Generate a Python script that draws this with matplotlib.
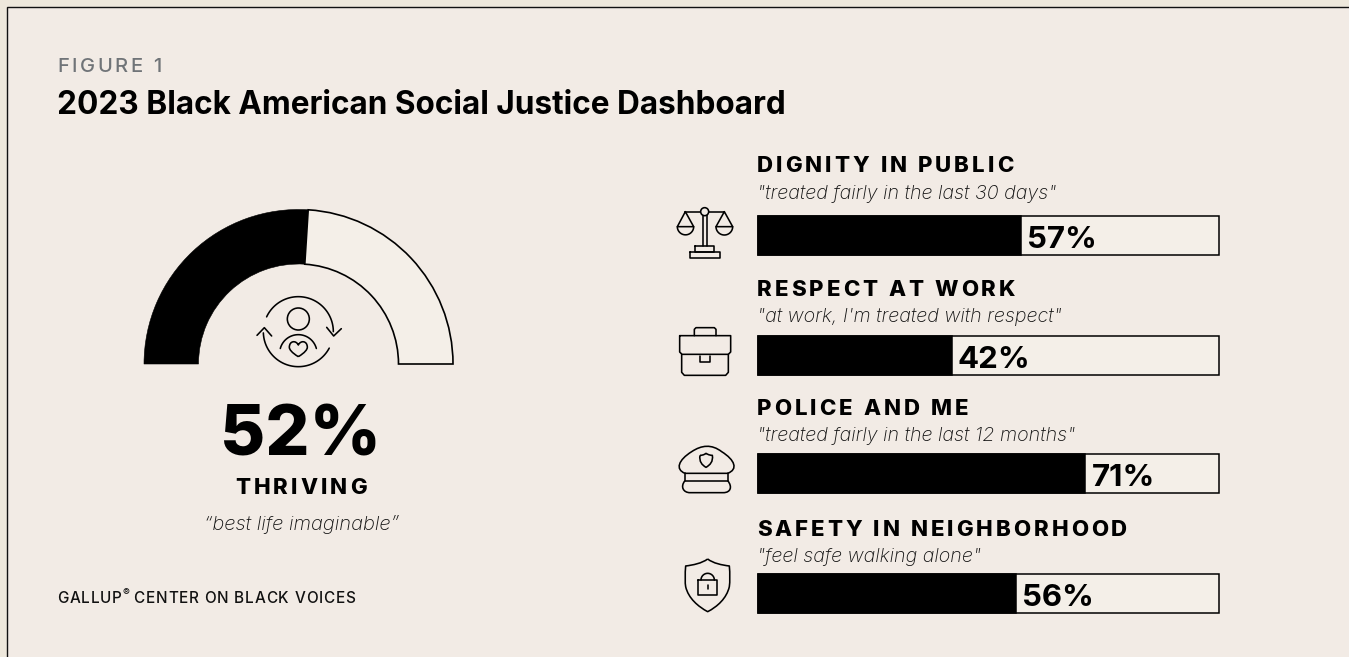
import matplotlib
matplotlib.use("Agg")
import matplotlib.pyplot as plt
import numpy as np
from matplotlib.patches import Rectangle, Wedge, PathPatch, Circle
from matplotlib.path import Path

# data
thriving_pct = 52
thriving_label = "THRIVING"
thriving_quote = "\u201cbest life imaginable\u201d"
categories = ["DIGNITY IN PUBLIC", "RESPECT AT WORK", "POLICE AND ME", "SAFETY IN NEIGHBORHOOD"]
quotes = [
    '"treated fairly in the last 30 days"',
    '"at work, I\'m treated with respect"',
    '"treated fairly in the last 12 months"',
    '"feel safe walking alone"',
]
values = [57, 42, 71, 56]

W, H = 1349, 657
BG = "#f2ebe5"
OUTER = "#eee8dc"
INK = "#000000"
LW = 1.15

# layout, in image pixels
bar_tops = [216, 336, 454, 574]
bar_height = 39
head_base = [172, 296, 415, 536]
quote_base = [199, 322, 441, 562]

fig = plt.figure(figsize=(W / 100, H / 100), dpi=100, facecolor=OUTER)
ax = fig.add_axes([0, 0, 1, 1])
ax.set_xlim(0, W)
ax.set_ylim(H, 0)
ax.axis("off")
ax.add_patch(Rectangle((7.2, 7.2), W, H, fc=BG, ec="#111111", lw=1.0))


def spaced_text(x, y, s, spacing, ha="left", **kw):
    # matplotlib has no letter spacing, so place one glyph at a time
    renderer = fig.canvas.get_renderer()

    def width(part):
        t = ax.text(0, 0, part + ".", **kw)
        w1 = t.get_window_extent(renderer).width
        t.set_text(".")
        w2 = t.get_window_extent(renderer).width
        t.remove()
        return w1 - w2

    total = width(s) + spacing * (len(s) - 1)
    x0 = x - total / 2 if ha == "center" else x
    for i, ch in enumerate(s):
        if ch != " ":
            ax.text(x0 + width(s[:i]) + spacing * i, y, ch, va="baseline", ha="left", **kw)
    return x0 + total


def line(points, closed=False, ox=0, oy=0, scale=1 / 3, lw=LW, fc="none"):
    pts = [(ox + px * scale, oy + py * scale) for px, py in points]
    if closed:
        pts.append(pts[0])
    ax.add_patch(PathPatch(Path(pts), fc=fc, ec=INK, lw=lw, joinstyle="round", capstyle="round"))


def arc(cx, cy, r, a1, a2, ox=0, oy=0, scale=1 / 3, lw=LW):
    t = np.radians(np.linspace(a1, a2, 60))
    line(list(zip(cx + r * np.cos(t), cy + r * np.sin(t))), ox=ox, oy=oy, scale=scale, lw=lw)


def curve(verts, ox, oy, closed=False, scale=1 / 3):
    # verts: start point, then triples of cubic bezier points
    pts = [(ox + a * scale, oy + b * scale) for a, b in verts]
    codes = [Path.MOVETO] + [Path.CURVE4] * (len(pts) - 1)
    if closed:
        pts.append(pts[0])
        codes.append(Path.CLOSEPOLY)
    ax.add_patch(PathPatch(Path(pts, codes), fc="none", ec=INK, lw=LW, joinstyle="round"))


# headings
spaced_text(57, 72, "FIGURE 1", 2.6, family="Inter", fontsize=14.5, color="#707478", fontweight="medium")
ax.text(57, 114, "2023 Black American Social Justice Dashboard", family="Inter", fontsize=22.7,
        fontweight="bold", color=INK, va="baseline")

# gauge
cx, cy, r_out, r_in = 298.5, 364, 154.5, 100
split = 180 + 180 * thriving_pct / 100
ax.add_patch(Wedge((cx, cy), r_out, 180, split, width=r_out - r_in, fc=INK, ec=INK, lw=0.4))
ax.add_patch(Wedge((cx, cy), r_out, split, 360, width=r_out - r_in, fc="#f4efe8", ec=INK, lw=1.2))

# person with heart inside the gauge
ox, oy = 130, 190
ax.add_patch(Circle((ox + 505 / 3, oy + 387 / 3), 11, fc="none", ec=INK, lw=LW))
arc(505, 490, 56, 195, 345, ox, oy)
curve([(505, 500), (485, 488), (478, 478), (478, 472), (478, 452), (498, 450), (505, 465),
       (512, 450), (532, 452), (532, 472), (532, 478), (525, 488), (505, 500)], ox, oy)
arc(505, 425, 105, 205, 360, ox, oy)
arc(505, 425, 105, 28, 178, ox, oy)
line([(590, 412), (611, 438), (634, 416)], ox=ox, oy=oy)
line([(381, 436), (403, 413), (425, 438)], ox=ox, oy=oy)

# big number and its labels
ax.text(301, 456, f"{thriving_pct}%", family="Inter", fontsize=50, fontweight="heavy", ha="center", va="baseline", color=INK)
spaced_text(301, 494, thriving_label, 3.1, ha="center", family="Inter", fontsize=16, fontweight="heavy", color=INK)
ax.text(301, 530, thriving_quote, family="Inter", fontsize=14.5, style="italic", fontweight="light",
        ha="center", va="baseline", color="#111111")

# footer
end = spaced_text(57, 603, "GALLUP", 0.8, family="Inter", fontsize=11, fontweight="medium", color="#111111")
ax.text(end + 1, 596, "\u00ae", family="Inter", fontsize=7.5, color="#111111", va="baseline")
spaced_text(end + 12, 603, "CENTER ON BLACK VOICES", 0.8, family="Inter", fontsize=11, fontweight="medium", color="#111111")

# right-hand labels
for name, quote, hb, qb in zip(categories, quotes, head_base, quote_base):
    spaced_text(757, hb, name, 3.0, family="Inter", fontsize=16, fontweight="heavy", color=INK)
    ax.text(757, qb, quote, family="Inter", fontsize=14.2, style="italic", fontweight="light",
            va="baseline", color="#111111")

# bars on their own 0-100 axis
bar_ax = fig.add_axes([758 / W, 0, (1219 - 758) / W, 1])
bar_ax.set_xlim(0, 100)
bar_ax.set_ylim(H, 0)
bar_ax.axis("off")
bar_ax.patch.set_alpha(0)
for top, value in zip(bar_tops, values):
    y = top + bar_height / 2
    bar_ax.barh(y, 100, height=bar_height, color="#f4efe8", edgecolor=INK, linewidth=1.1, clip_on=False)
    bar_ax.barh(y, value, height=bar_height, color=INK, edgecolor=INK, linewidth=1.1, clip_on=False)
    bar_ax.annotate(f"{value}%", xy=(value, top + 32), xytext=(4.5, 0), textcoords="offset points",
                    family="Inter", fontsize=22.5, fontweight="bold", va="baseline", color=INK)

# scales icon
ox, oy = 660, 190
line([(75, 65), (193, 65)], ox=ox, oy=oy)
ax.add_patch(Circle((ox + 134 / 3, oy + 65 / 3), 4, fc=BG, ec=INK, lw=LW, zorder=3))
line([(128, 75), (128, 167)], ox=ox, oy=oy)
line([(140, 75), (140, 167)], ox=ox, oy=oy)
line([(76, 65), (52, 110), (101, 110)], closed=True, ox=ox, oy=oy)
line([(193, 65), (168, 110), (218, 110)], closed=True, ox=ox, oy=oy)
arc(76.5, 110, 24.5, 0, 180, ox, oy)
arc(193, 110, 25, 0, 180, ox, oy)
line([(105, 167), (163, 167), (163, 185), (105, 185)], closed=True, ox=ox, oy=oy)
line([(90, 185), (180, 185), (180, 205), (90, 205)], closed=True, ox=ox, oy=oy)

# briefcase icon
line([(103, 437), (103, 418), (108, 413), (163, 413), (168, 418), (168, 437)], ox=ox, oy=oy)
line([(59, 437), (212, 437), (212, 486), (205, 493), (66, 493), (59, 486)], closed=True, ox=ox, oy=oy)
line([(65, 493), (65, 547), (73, 556), (197, 556), (205, 547), (205, 493)], ox=ox, oy=oy)
line([(120, 497), (120, 515), (150, 515), (150, 497)], ox=ox, oy=oy)

# police cap icon
ox, oy = 660, 430
curve([(75, 130), (45, 118), (55, 90), (95, 65), (125, 45), (155, 42), (185, 65),
       (225, 90), (235, 118), (203, 130), (160, 130), (115, 130), (75, 130)], ox, oy)
line([(75, 130), (75, 152), (203, 152), (203, 130)], ox=ox, oy=oy)
curve([(75, 152), (60, 170), (70, 188), (90, 188), (130, 188), (160, 188), (190, 188),
       (212, 188), (218, 170), (203, 152)], ox, oy)
curve([(120, 76), (132, 76), (138, 70), (138, 70), (138, 70), (146, 76), (157, 76),
       (160, 95), (150, 105), (138, 112), (126, 105), (117, 95), (120, 76)], ox, oy)

# shield icon
curve([(143, 387), (125, 400), (100, 405), (77, 408), (75, 430), (75, 460), (77, 470),
       (85, 505), (115, 530), (143, 545), (172, 530), (200, 505), (208, 470),
       (210, 455), (210, 430), (208, 408), (185, 405), (160, 400), (143, 387)], ox, oy)
line([(113, 450), (172, 450), (172, 495), (113, 495)], closed=True, ox=ox, oy=oy)
arc(143, 450, 20, 180, 360, ox, oy)
line([(143, 465), (143, 478)], ox=ox, oy=oy)

fig.savefig("out.png", dpi=100, facecolor=fig.get_facecolor())
